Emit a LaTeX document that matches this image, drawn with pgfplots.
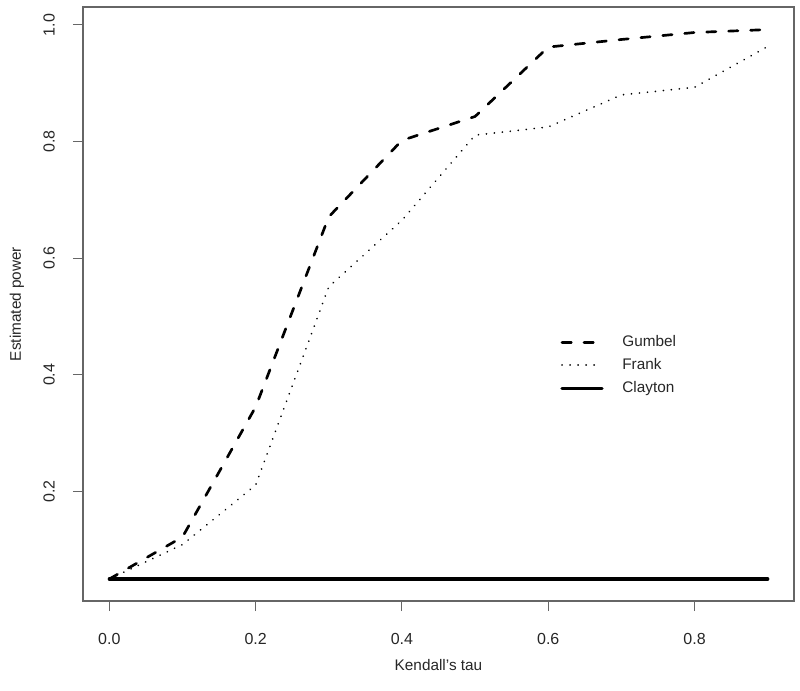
\documentclass[border=0pt]{standalone}
\usepackage{pgfplots}
\pgfplotsset{compat=1.18}
\usepackage{fontspec}
\setmainfont{Liberation Sans}
\begin{document}
\begin{tikzpicture}
\begin{axis}[
  scale only axis, width=533.25pt, height=445.5pt,
  xmin=-0.036, xmax=0.936, ymin=0.0123, ymax=1.0307,
  axis line style={black!60, line width=0.8pt},
  tick style={black!60, line width=0.8pt},
  tick align=outside, major tick length=7.5pt,
  xtick={0,0.2,0.4,0.6,0.8}, ytick={0.2,0.4,0.6,0.8,1.0},
  xtick pos=left, ytick pos=left,
  ticklabel style={font=\fontsize{12}{14}\selectfont, text=black!85},
  /pgf/number format/.cd, fixed, fixed zerofill, precision=1, assume math mode=true, /pgfplots/.cd,
  xticklabel style={anchor=center}, xticklabel shift=21pt,
  yticklabel style={rotate=90, anchor=center}, yticklabel shift=18pt,
  xlabel={Kendall’s tau}, ylabel={Estimated power},
  label style={font=\fontsize{11.5}{13}\selectfont, text=black!85},
  xlabel style={at={(axis description cs:0.5,-0.1077)}, anchor=center},
  ylabel style={at={(axis description cs:-0.0928,0.5)}, anchor=center},
  legend image code/.code={\draw[#1] (0pt,0pt) -- (30pt,0pt); \path (43pt,0pt);},
  legend style={draw=none, fill=none, at={(axis description cs:0.671,0.397)}, anchor=west, inner sep=0pt,
    font=\fontsize{11.5}{13}\selectfont, text=black!85, row sep=4.25pt,
    nodes={inner sep=1pt, text height=9pt, text depth=2pt}},
  legend cell align=left,
]
\addplot[black, line width=2pt, dash pattern=on 7pt off 9.5pt, line cap=round, line join=round]
  coordinates {(0,0.05) (0.1,0.122) (0.2,0.345) (0.3,0.671) (0.4,0.802) (0.5,0.843) (0.6,0.962) (0.7,0.975) (0.8,0.987) (0.9,0.992)};
\addlegendentry{Gumbel}
\addplot[black, line width=1.4pt, dash pattern=on 0.01pt off 6pt, line cap=round, line join=round]
  coordinates {(0,0.05) (0.1,0.109) (0.2,0.211) (0.3,0.551) (0.4,0.665) (0.5,0.811) (0.6,0.825) (0.7,0.880) (0.8,0.893) (0.9,0.963)};
\addlegendentry{Frank}
\addplot[black, line width=2.5pt, line cap=round]
  coordinates {(0,0.05) (0.1,0.05) (0.2,0.05) (0.3,0.05) (0.4,0.05) (0.5,0.05) (0.6,0.05) (0.7,0.05) (0.8,0.05) (0.9,0.05)};
\addlegendentry{Clayton}
\end{axis}
\pgfresetboundingbox
\path[use as bounding box] ([shift={(-62.25pt,-66.75pt)}]current axis.south west) rectangle ([shift={(4.5pt,5.25pt)}]current axis.north east);
\end{tikzpicture}
\end{document}
